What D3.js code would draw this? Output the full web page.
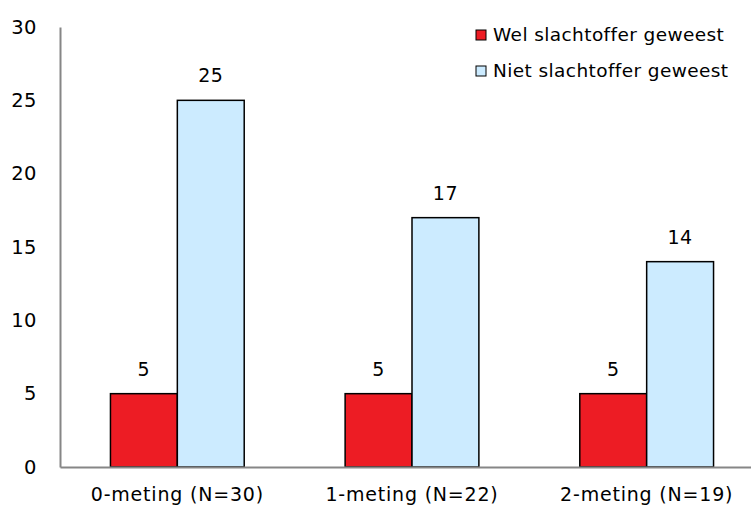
<!DOCTYPE html>
<html>
<head>
<meta charset="utf-8">
<script src="https://cdn.jsdelivr.net/npm/d3@7"></script>
<style>
  body { margin: 0; background: #fff; }
  text { font-family: "DejaVu Sans", sans-serif; fill: #000; }
</style>
</head>
<body>
<svg id="chart"></svg>
<script>
const width = 751;
const height = 511;

// data
const categories = ["0-meting (N=30)", "1-meting (N=22)", "2-meting (N=19)"];
const seriesNames = ["Wel slachtoffer geweest", "Niet slachtoffer geweest"];
const welValues = [5, 5, 5];
const nietValues = [25, 17, 14];
const yTicks = [0, 5, 10, 15, 20, 25, 30];

const colors = ["#ED1C24", "#CCEBFF"];

const margin = {top: 27, right: -13, bottom: 44, left: 60};

const svg = d3.select("#chart")
  .attr("width", width)
  .attr("height", height)
  .attr("viewBox", [0, 0, width, height]);

// scales
const x0 = d3.scaleBand()
  .domain(categories)
  .range([margin.left, width - margin.right])
  .paddingInner(0.43)
  .paddingOuter(0.215);

const x1 = d3.scaleBand()
  .domain(seriesNames)
  .range([0, x0.bandwidth()]);

const y = d3.scaleLinear()
  .domain([0, 30])
  .range([height - margin.bottom, margin.top]);

const data = categories.map((c, i) => ({
  category: c,
  values: [
    {name: seriesNames[0], value: welValues[i]},
    {name: seriesNames[1], value: nietValues[i]}
  ]
}));

// bars
const groups = svg.append("g")
  .selectAll("g")
  .data(data)
  .join("g")
  .attr("transform", d => `translate(${x0(d.category)},0)`);

groups.selectAll("rect")
  .data(d => d.values)
  .join("rect")
  .attr("x", d => x1(d.name))
  .attr("y", d => y(d.value))
  .attr("width", x1.bandwidth())
  .attr("height", d => y(0) - y(d.value))
  .attr("fill", (d, i) => colors[i])
  .attr("stroke", "#000")
  .attr("stroke-width", 1.5);

// value labels
groups.selectAll("text.val")
  .data(d => d.values)
  .join("text")
  .attr("class", "val")
  .attr("x", d => x1(d.name) + x1.bandwidth() / 2)
  .attr("y", d => y(d.value) - 18)
  .attr("text-anchor", "middle")
  .style("font-size", "19px")
  .style("letter-spacing", "0.5px")
  .text(d => d.value);

// y axis
const yAxis = svg.append("g")
  .attr("transform", `translate(${margin.left},0)`)
  .call(d3.axisLeft(y).tickValues(yTicks).tickSize(0).tickPadding(23));
yAxis.select(".domain").attr("stroke", "#868686").attr("stroke-width", 2);
yAxis.selectAll("text").style("font-size", "19.5px").style("letter-spacing", "0.5px").attr("font-family", null);

// x axis
const xAxis = svg.append("g")
  .attr("transform", `translate(0,${y(0)})`)
  .call(d3.axisBottom(x0).tickSize(0).tickPadding(21));
xAxis.select(".domain").attr("stroke", "#868686").attr("stroke-width", 2);
xAxis.selectAll("text").style("font-size", "19px").style("letter-spacing", "0.8px").attr("font-family", null);

// legend
const legend = svg.append("g")
  .selectAll("g")
  .data(seriesNames)
  .join("g")
  .attr("transform", (d, i) => `translate(476,${30 + i * 36})`);

legend.append("rect")
  .attr("width", 10)
  .attr("height", 10)
  .attr("fill", (d, i) => colors[i])
  .attr("stroke", "#000")
  .attr("stroke-width", 1);

legend.append("text")
  .attr("x", 17)
  .attr("y", 5)
  .attr("dy", "0.35em")
  .style("font-size", "18.5px")
  .style("letter-spacing", "0.4px")
  .text(d => d);
</script>
</body>
</html>
